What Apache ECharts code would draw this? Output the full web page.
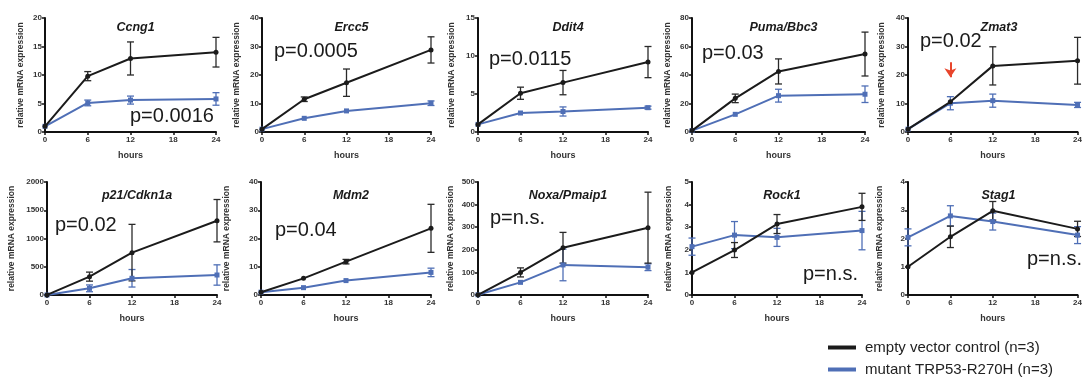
<!DOCTYPE html>
<html>
<head>
<meta charset="utf-8">
<script src="https://cdn.jsdelivr.net/npm/echarts@6/dist/echarts.min.js"></script>
<style>
  html, body { margin: 0; padding: 0; background: #fff; }
  #chart { width: 1085px; height: 377px; }
</style>
</head>
<body>
<div id="chart"></div>
<script>
// values
const hours = [0, 6, 12, 24]
const genes = ["Ccng1", "Ercc5", "Ddit4", "Puma/Bbc3", "Zmat3",
               "p21/Cdkn1a", "Mdm2", "Noxa/Pmaip1", "Rock1", "Stag1"]
const yMax = [20, 40, 15, 80, 40, 2000, 40, 500, 5, 4]
const yStep = [5, 10, 5, 20, 10, 500, 10, 100, 1, 1]
const pLabels = ["p=0.0016", "p=0.0005", "p=0.0115", "p=0.03", "p=0.02",
                 "p=0.02", "p=0.04", "p=n.s.", "p=n.s.", "p=n.s."]

const ctrlMean = [
  [1, 9.8, 12.9, 14.0],
  [1, 11.5, 17.3, 28.8],
  [1, 5.1, 6.5, 9.2],
  [1, 23.6, 42.5, 54.7],
  [1, 10.6, 23.2, 25.0],
  [1, 325, 750, 1315],
  [1, 5.9, 11.8, 23.6],
  [1, 100, 209, 298],
  [1, 1.99, 3.14, 3.9],
  [1, 2.06, 2.98, 2.34]
]
const ctrlErr = [
  [0, 0.8, 2.9, 2.6],
  [0, 0.8, 4.8, 4.6],
  [0, 0.8, 1.6, 2.05],
  [0, 3, 8.8, 15.4],
  [0, 0, 6.7, 8.2],
  [0, 80, 500, 375],
  [0, 0, 0.8, 8.5],
  [0, 20, 68, 157],
  [0, 0.33, 0.42, 0.6],
  [0, 0.38, 0.33, 0.27]
]
const mutMean = [
  [1, 5.1, 5.6, 5.8],
  [1, 4.8, 7.4, 10.1],
  [1, 2.5, 2.7, 3.2],
  [1, 12.4, 25.5, 26.5],
  [1, 10.1, 11.0, 9.5],
  [1, 118, 296, 354],
  [1, 2.6, 5.1, 8.0],
  [1, 56, 133, 123],
  [2.14, 2.65, 2.55, 2.85],
  [2.04, 2.8, 2.6, 2.12]
]
const mutErr = [
  [0, 0.5, 0.7, 1.1],
  [0, 0, 0, 0.8],
  [0, 0, 0.6, 0.2],
  [0, 0, 4.5, 5.8],
  [0, 2.3, 2.3, 0.9],
  [0, 60, 155, 180],
  [0, 0, 0, 1.5],
  [0, 0, 70, 15],
  [0.38, 0.6, 0.4, 0.85],
  [0.3, 0.36, 0.3, 0.3]
]
const legendNames = ["empty vector control (n=3)", "mutant TRP53-R270H (n=3)"]

// layout of the 2 x 5 panels
const gridLeft = [45, 262, 478, 692, 908, 47, 261, 478, 692, 908]
const gridWidth = [171, 169, 170, 173, 172, 170, 170, 170, 170, 171]
const rowTop = [18, 182]
const rowHeight = [114, 113]
const yNameGap = [20, 21, 22, 20, 22, 31, 30, 23, 19, 24]
const pPos = [[130, 118], [274, 53], [489, 61], [702, 55], [920, 43],
              [55, 227], [275, 232], [490, 220], [803, 276], [1027, 261]]

const FONT = "Liberation Sans, Arial, sans-serif"
const BLACK = "#1b1b1b"
const BLUE = "#4f6fb6"

const chart = echarts.init(document.getElementById("chart"))

const grids = []
const xAxes = []
const yAxes = []
const series = []
const titles = []
const graphics = []

function errorSeries(i, means, errs, color) {
  const data = []
  hours.forEach((h, k) => {
    if (errs[k] > 0) data.push([h, means[k] - errs[k], means[k] + errs[k]])
  })
  return {
    type: "custom",
    name: "err",
    xAxisIndex: i,
    yAxisIndex: i,
    data: data,
    encode: { x: 0, y: [1, 2] },
    silent: true,
    z: 3,
    renderItem: (params, api) => {
      const x = api.value(0)
      const lo = api.coord([x, api.value(1)])
      const hi = api.coord([x, api.value(2)])
      const w = 3.5
      const style = { stroke: color, lineWidth: 1.3 }
      return {
        type: "group",
        children: [
          { type: "line", shape: { x1: hi[0], y1: hi[1], x2: lo[0], y2: lo[1] }, style },
          { type: "line", shape: { x1: hi[0] - w, y1: hi[1], x2: hi[0] + w, y2: hi[1] }, style },
          { type: "line", shape: { x1: lo[0] - w, y1: lo[1], x2: lo[0] + w, y2: lo[1] }, style },
        ],
      }
    },
  }
}

genes.forEach((gene, i) => {
  const row = i < 5 ? 0 : 1
  grids.push({
    left: gridLeft[i],
    top: rowTop[row],
    width: gridWidth[i],
    height: rowHeight[row],
  })

  xAxes.push({
    type: "value",
    gridIndex: i,
    min: 0,
    max: 24,
    interval: 6,
    name: "hours",
    nameLocation: "middle",
    nameGap: 19,
    nameTextStyle: { fontFamily: FONT, fontWeight: "bold", fontSize: 9, color: "#333" },
    axisLine: { show: true, onZero: false, lineStyle: { color: "#111", width: 2 } },
    axisTick: { show: true, length: 3, lineStyle: { color: "#111", width: 1.5 } },
    axisLabel: { fontFamily: FONT, fontWeight: "bold", fontSize: 8, color: "#333", margin: 4 },
    splitLine: { show: false },
  })

  yAxes.push({
    type: "value",
    gridIndex: i,
    min: 0,
    max: yMax[i],
    interval: yStep[i],
    name: "relative mRNA expression",
    nameLocation: "middle",
    nameGap: yNameGap[i],
    nameTextStyle: { fontFamily: FONT, fontWeight: "bold", fontSize: 8.5, color: "#333" },
    axisLine: { show: true, lineStyle: { color: "#111", width: 2 } },
    axisTick: { show: true, length: 3, lineStyle: { color: "#111", width: 1.5 } },
    axisLabel: {
      fontFamily: FONT, fontWeight: "bold", fontSize: 8, color: "#333", margin: 3,
      formatter: (v) => String(v),
    },
    splitLine: { show: false },
  })

  titles.push({
    text: gene,
    left: gridLeft[i] + gridWidth[i] / 2,
    top: row === 0 ? 16 : 184,
    textAlign: "center",
    textStyle: { fontFamily: FONT, fontWeight: "bold", fontStyle: "italic", fontSize: 12.5, color: "#1a1a1a" },
  })

  series.push({
    type: "line",
    name: legendNames[1],
    xAxisIndex: i,
    yAxisIndex: i,
    data: hours.map((h, k) => [h, mutMean[i][k]]),
    symbol: "rect",
    symbolSize: 5,
    color: BLUE,
    lineStyle: { width: 2, color: BLUE },
    itemStyle: { color: BLUE },
    z: 4,
  })
  series.push(errorSeries(i, mutMean[i], mutErr[i], BLUE))

  const ctrl = {
    type: "line",
    name: legendNames[0],
    xAxisIndex: i,
    yAxisIndex: i,
    data: hours.map((h, k) => [h, ctrlMean[i][k]]),
    symbol: "circle",
    symbolSize: 5,
    color: BLACK,
    lineStyle: { width: 2, color: BLACK },
    itemStyle: { color: BLACK },
    z: 5,
  }
  if (gene === "Zmat3") {
    ctrl.markLine = {
      silent: true,
      symbol: ["none", "arrow"],
      symbolSize: [9, 9],
      label: { show: false },
      lineStyle: { color: "#e8452c", width: 2, type: "solid" },
      data: [[{ coord: [6, 24.5] }, { coord: [6, 19.2] }]],
    }
  }
  series.push(ctrl)
  series.push(errorSeries(i, ctrlMean[i], ctrlErr[i], "#2a2a2a"))

  graphics.push({
    type: "text",
    left: pPos[i][0],
    top: pPos[i][1] - 12,
    style: { text: pLabels[i], font: "20px " + FONT, fill: "#1a1a1a" },
  })
})

chart.setOption({
  backgroundColor: "#fff",
  animation: false,
  title: titles,
  grid: grids,
  xAxis: xAxes,
  yAxis: yAxes,
  legend: {
    data: legendNames,
    orient: "vertical",
    left: 828,
    top: 340,
    padding: 0,
    icon: "rect",
    itemWidth: 28,
    itemHeight: 4,
    itemGap: 7,
    textStyle: { fontFamily: FONT, fontSize: 15, color: "#222", padding: [0, 0, 0, 4] },
  },
  graphic: graphics,
  series: series,
})
</script>
</body>
</html>
